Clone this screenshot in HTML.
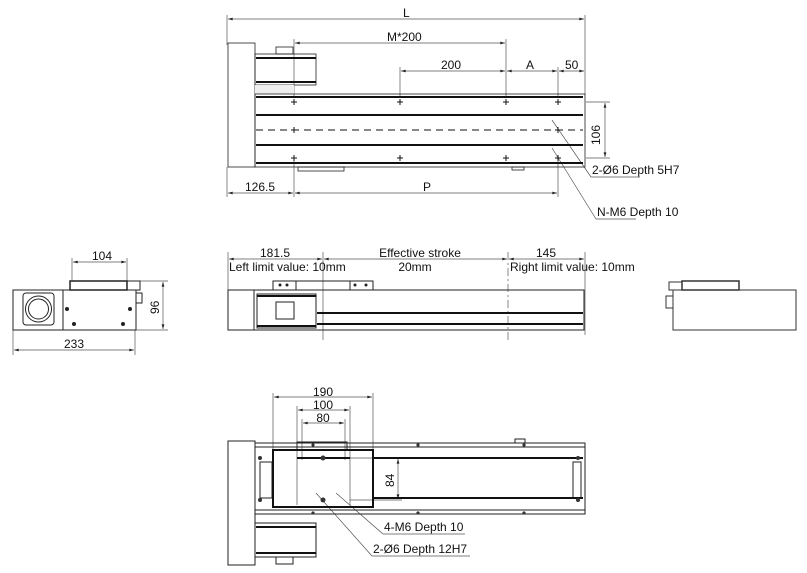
<!DOCTYPE html>
<html><head><meta charset="utf-8"><style>
html,body{margin:0;padding:0;background:#fff}
svg{display:block}
text{font-family:"Liberation Sans",Arial,sans-serif;font-size:12px;fill:#111}
</style></head><body>
<svg width="807" height="573" viewBox="0 0 807 573" xmlns="http://www.w3.org/2000/svg">
<defs>
<marker id="a" viewBox="0 0 10 6" refX="10" refY="3" markerWidth="8" markerHeight="4" orient="auto-start-reverse"><path d="M0,0 L10,3 L0,6 z" fill="#222"/></marker>
</defs>
<g stroke="#555" stroke-width="0.7" fill="none">
<line x1="227" y1="15" x2="227" y2="45"/><line x1="585" y1="15" x2="585" y2="95"/>
<line x1="228" y1="19" x2="584" y2="19" marker-start="url(#a)" marker-end="url(#a)"/>
<line x1="294" y1="39" x2="294" y2="98"/><line x1="506" y1="39" x2="506" y2="98"/>
<line x1="295" y1="43" x2="505" y2="43" marker-start="url(#a)" marker-end="url(#a)"/>
<line x1="400" y1="67" x2="400" y2="98"/><line x1="558" y1="67" x2="558" y2="98"/>
<line x1="401" y1="71" x2="505" y2="71" marker-start="url(#a)" marker-end="url(#a)"/>
<line x1="507" y1="71" x2="557" y2="71" marker-start="url(#a)" marker-end="url(#a)"/>
<line x1="559" y1="71" x2="584" y2="71" marker-start="url(#a)" marker-end="url(#a)"/>
<line x1="586" y1="102" x2="610" y2="102"/><line x1="586" y1="158" x2="610" y2="158"/>
<line x1="605" y1="103" x2="605" y2="157" marker-start="url(#a)" marker-end="url(#a)"/>
<line x1="227" y1="167" x2="227" y2="197"/><line x1="294" y1="160" x2="294" y2="197"/><line x1="558" y1="160" x2="558" y2="197"/>
<line x1="228" y1="193" x2="293" y2="193" marker-start="url(#a)" marker-end="url(#a)"/>
<line x1="295" y1="193" x2="557" y2="193" marker-start="url(#a)" marker-end="url(#a)"/>
<line x1="552" y1="120" x2="591" y2="177"/><line x1="591" y1="177" x2="640" y2="177"/>
<line x1="552" y1="148" x2="596" y2="219"/><line x1="596" y1="219" x2="636" y2="219"/>
</g>
<g stroke="#222" fill="none" stroke-width="0.8">
<rect x="228" y="43" width="27" height="124" fill="#fff"/>
<rect x="255" y="54" width="61" height="31"/>
<rect x="276" y="47" width="17" height="7"/>
<rect x="255" y="85" width="39" height="9" fill="#eee" stroke="none"/>
<rect x="255" y="94" width="330" height="73"/>
<line x1="300" y1="167" x2="345" y2="167"/>
<rect x="298" y="167" width="46" height="4"/><rect x="512" y="167" width="12" height="3"/>
</g>
<g stroke="#111" stroke-width="2">
<line x1="256" y1="58" x2="316" y2="58"/><line x1="256" y1="82" x2="316" y2="82"/>
<line x1="256" y1="97" x2="583" y2="97"/><line x1="256" y1="115" x2="583" y2="115"/>
<line x1="256" y1="145" x2="583" y2="145"/><line x1="256" y1="163" x2="583" y2="163"/>
</g>
<line x1="256" y1="130" x2="583" y2="130" stroke="#111" stroke-width="1" stroke-dasharray="7,5"/>
<g stroke="#111" stroke-width="1">
<path d="M291,102h6M294,99v6M397,102h6M400,99v6M503,102h6M506,99v6M555,102h6M558,99v6"/>
<path d="M291,158h6M294,155v6M397,158h6M400,155v6M503,158h6M506,155v6M555,158h6M558,155v6"/>
<path d="M291,130h6M294,127v6M555,130h6M558,127v6"/>
</g>
<text x="403" y="17">L</text>
<text x="387" y="41">M*200</text>
<text x="441" y="69">200</text>
<text x="526" y="69">A</text>
<text x="565" y="69">50</text>
<text x="600" y="137" transform="rotate(-90 600 137) translate(-8 0)">106</text>
<text x="245" y="191">126.5</text>
<text x="423" y="191">P</text>
<text x="592" y="174">2-Ø6 Depth 5H7</text>
<text x="597" y="216">N-M6 Depth 10</text>

<!-- LEFT END VIEW -->
<g stroke="#555" stroke-width="0.7" fill="none">
<line x1="72" y1="258" x2="72" y2="281"/><line x1="127" y1="258" x2="127" y2="281"/>
<line x1="73" y1="262" x2="126" y2="262" marker-start="url(#a)" marker-end="url(#a)"/>
<line x1="140" y1="281" x2="168" y2="281"/><line x1="136" y1="330" x2="168" y2="330"/>
<line x1="163" y1="282" x2="163" y2="329" marker-start="url(#a)" marker-end="url(#a)"/>
<line x1="13" y1="330" x2="13" y2="355"/><line x1="135" y1="330" x2="135" y2="355"/>
<line x1="14" y1="350" x2="134" y2="350" marker-start="url(#a)" marker-end="url(#a)"/>
</g>
<g stroke="#222" stroke-width="1" fill="none">
<rect x="13" y="290" width="50" height="40"/>
<rect x="23" y="293" width="31" height="32" rx="3"/>
<circle cx="38.5" cy="309" r="13"/><circle cx="38.5" cy="309" r="10"/>
<rect x="63" y="290" width="73" height="40"/>
<rect x="70" y="281" width="57" height="9" stroke-width="1.5"/>
<rect x="127" y="281" width="13" height="9"/>
<rect x="136" y="293" width="6" height="10"/>
</g>
<g fill="#222"><circle cx="67" cy="309" r="2"/><circle cx="130" cy="309" r="2"/><circle cx="74" cy="324" r="2"/><circle cx="123" cy="324" r="2"/></g>
<text x="102" y="260" text-anchor="middle">104</text>
<text x="159" y="306" transform="rotate(-90 159 306) translate(-8 0)">96</text>
<text x="74" y="348" text-anchor="middle">233</text>

<!-- SIDE VIEW -->
<g stroke="#555" stroke-width="0.7" fill="none">
<line x1="228" y1="252" x2="228" y2="290"/><line x1="585" y1="252" x2="585" y2="335"/>
<line x1="229" y1="259" x2="322" y2="259" marker-start="url(#a)" marker-end="url(#a)"/>
<line x1="324" y1="259" x2="507" y2="259" marker-start="url(#a)" marker-end="url(#a)"/>
<line x1="509" y1="259" x2="584" y2="259" marker-start="url(#a)" marker-end="url(#a)"/>
<line x1="323" y1="252" x2="323" y2="340"/>
<line x1="508" y1="252" x2="508" y2="340" stroke-dasharray="8,3,2,3"/>
</g>
<g stroke="#222" stroke-width="1" fill="none">
<rect x="228" y="290" width="26" height="40"/>
<rect x="254" y="290" width="330" height="40"/>
<rect x="257" y="294" width="59" height="34"/>
<rect x="276" y="302" width="18" height="17"/>
<rect x="273" y="281" width="100" height="9"/>
<line x1="296" y1="281" x2="296" y2="290"/><line x1="350" y1="281" x2="350" y2="290"/>
</g>
<g stroke="#111" stroke-width="2"><line x1="257" y1="296" x2="316" y2="296"/><line x1="257" y1="326" x2="316" y2="326"/>
<line x1="317" y1="313" x2="583" y2="313"/><line x1="317" y1="324" x2="583" y2="324"/></g>
<g fill="#222"><circle cx="280" cy="285" r="1.5"/><circle cx="287" cy="285" r="1.5"/><circle cx="355" cy="285" r="1.5"/><circle cx="366" cy="285" r="1.5"/></g>
<text x="275" y="257" text-anchor="middle">181.5</text>
<text x="420" y="257" text-anchor="middle">Effective stroke</text>
<text x="546" y="257" text-anchor="middle">145</text>
<text x="229" y="271">Left limit value: 10mm</text>
<text x="415" y="271" text-anchor="middle">20mm</text>
<text x="510" y="271">Right limit value: 10mm</text>

<!-- RIGHT END -->
<g stroke="#333" stroke-width="1" fill="none">
<rect x="673" y="290" width="123" height="40"/>
<rect x="682" y="281" width="57" height="9" stroke-width="1.5"/>
<rect x="669" y="282" width="13" height="8"/>
<rect x="666" y="296" width="7" height="12"/>
</g>

<!-- BOTTOM VIEW -->
<g stroke="#555" stroke-width="0.7" fill="none">
<line x1="273" y1="393" x2="273" y2="450"/><line x1="373" y1="393" x2="373" y2="450"/>
<line x1="274" y1="397" x2="372" y2="397" marker-start="url(#a)" marker-end="url(#a)"/>
<line x1="297" y1="406" x2="297" y2="505"/><line x1="350" y1="406" x2="350" y2="505"/>
<line x1="298" y1="410" x2="349" y2="410" marker-start="url(#a)" marker-end="url(#a)"/>
<line x1="302" y1="419" x2="302" y2="460"/><line x1="345" y1="419" x2="345" y2="460"/>
<line x1="303" y1="423" x2="344" y2="423" marker-start="url(#a)" marker-end="url(#a)"/>
<line x1="350" y1="458" x2="402" y2="458"/><line x1="350" y1="500" x2="402" y2="500"/>
<line x1="398" y1="459" x2="398" y2="499" marker-start="url(#a)" marker-end="url(#a)"/>
<line x1="336" y1="493" x2="383" y2="534"/><line x1="383" y1="534" x2="465" y2="534"/>
<line x1="316" y1="493" x2="372" y2="556"/><line x1="372" y1="556" x2="470" y2="556"/>
</g>
<g stroke="#222" stroke-width="1" fill="none">
<rect x="228" y="441" width="27" height="124" fill="#fff"/>
<rect x="255" y="443" width="330" height="71"/>
<line x1="255" y1="447" x2="585" y2="447"/><line x1="255" y1="510" x2="585" y2="510"/>
<rect x="255" y="523" width="61" height="34"/>
<rect x="276" y="557" width="17" height="7"/>
<rect x="297" y="442" width="50" height="8"/>
<rect x="515" y="439" width="10" height="4"/>
<rect x="260" y="462" width="12" height="36"/><rect x="573" y="462" width="8" height="36"/>
</g>
<g stroke="#111" stroke-width="2" fill="none">
<rect x="273" y="450" width="100" height="57"/>
<line x1="373" y1="458" x2="583" y2="458"/><line x1="373" y1="498" x2="583" y2="498"/>
<line x1="297" y1="458" x2="350" y2="458"/>
<line x1="256" y1="527" x2="316" y2="527"/><line x1="256" y1="553" x2="316" y2="553"/>
</g>
<g fill="#333"><circle cx="260" cy="458" r="2"/><circle cx="260" cy="500" r="2"/><circle cx="578" cy="458" r="2"/><circle cx="578" cy="500" r="2"/>
<circle cx="313" cy="513" r="1.6"/><circle cx="418" cy="513" r="1.6"/><circle cx="524" cy="513" r="1.6"/><circle cx="418" cy="445" r="1.6"/><circle cx="524" cy="445" r="1.6"/><circle cx="313" cy="445" r="1.6"/>
<circle cx="323" cy="458" r="2.5"/><circle cx="323" cy="500" r="2.5"/></g>
<text x="323" y="396" text-anchor="middle">190</text>
<text x="323" y="409" text-anchor="middle">100</text>
<text x="323" y="422" text-anchor="middle">80</text>
<text x="394" y="479" transform="rotate(-90 394 479) translate(-8 0)">84</text>
<text x="384" y="531">4-M6 Depth 10</text>
<text x="373" y="553">2-Ø6 Depth 12H7</text>
</svg>
</body></html>
